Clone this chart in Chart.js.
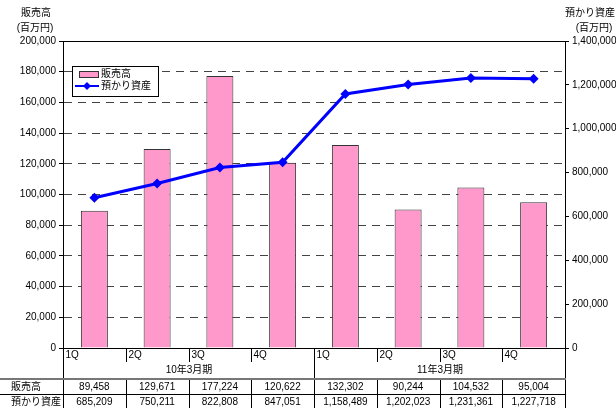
<!DOCTYPE html>
<html lang="ja">
<head>
<meta charset="UTF-8">
<title>販売高・預かり資産</title>
<script src="https://cdn.jsdelivr.net/npm/chart.js"></script>
<style>
    body { margin: 0; background: #fff; }
    canvas { display: block; }
</style>
</head>
<body>
<canvas id="chart" width="616" height="408"></canvas>
<script>
    // quarterly figures (millions of yen)
    const quarters = ["1Q", "2Q", "3Q", "4Q", "1Q", "2Q", "3Q", "4Q"];
    const fiscalYears = ["10年3月期", "11年3月期"];
    const sales = [89458, 129671, 177224, 120622, 132302, 90244, 104532, 95004];
    const assets = [685209, 750211, 822808, 847051, 1158489, 1202023, 1231361, 1227718];
    const salesLabel = "販売高";
    const assetsLabel = "預かり資産";
    const unitLabel = "(百万円)";

    const FONT = "'Liberation Sans', 'Noto Sans CJK JP', sans-serif";
    const PINK = "#FF99CC";
    const BLUE = "#0000FF";

    Chart.defaults.font.family = FONT;
    Chart.defaults.font.size = 10;
    Chart.defaults.color = "#000";

    const fmt = v => Number(v).toLocaleString("en-US");

    // axis captions, legend box, chart frame and the data table underneath
    const extras = {
        id: "extras",
        afterDraw(chart) {
            const ctx = chart.ctx;
            const area = chart.chartArea;
            const x = chart.scales.x;
            ctx.save();

            // frame
            ctx.strokeStyle = "#000";
            ctx.lineWidth = 1;
            ctx.setLineDash([]);
            ctx.strokeRect(Math.round(area.left) + 0.5, Math.round(area.top) + 0.5,
                Math.round(area.right - area.left), Math.round(area.bottom - area.top));

            // axis captions
            ctx.fillStyle = "#000";
            ctx.font = "10px " + FONT;
            ctx.textAlign = "center";
            ctx.textBaseline = "middle";
            ctx.fillText(salesLabel, 36, 13);
            ctx.fillText(unitLabel, 35, 28);
            ctx.fillText(assetsLabel, 590, 13);
            ctx.fillText(unitLabel, 594, 28);

            // legend
            ctx.fillStyle = "#fff";
            ctx.fillRect(72, 66, 86, 30);
            ctx.strokeStyle = "#000";
            ctx.strokeRect(72.5, 66.5, 86, 30);
            ctx.fillStyle = PINK;
            ctx.fillRect(79, 71, 19, 6);
            ctx.strokeStyle = "#333";
            ctx.strokeRect(79.5, 71.5, 19, 6);
            ctx.strokeStyle = BLUE;
            ctx.lineWidth = 2;
            ctx.beginPath();
            ctx.moveTo(75, 86);
            ctx.lineTo(99, 86);
            ctx.stroke();
            ctx.fillStyle = BLUE;
            ctx.beginPath();
            ctx.moveTo(87, 82);
            ctx.lineTo(91, 86);
            ctx.lineTo(87, 90);
            ctx.lineTo(83, 86);
            ctx.closePath();
            ctx.fill();
            ctx.fillStyle = "#000";
            ctx.textAlign = "left";
            ctx.fillText(salesLabel, 101, 74);
            ctx.fillText(assetsLabel, 101, 86);

            // table
            const n = quarters.length;
            const left = area.left;
            const colW = (area.right - area.left) / n;
            const edge = k => Math.round(left + k * colW) + 0.5;
            const top = Math.round(area.bottom);
            const yTick = top + 14;
            const yRow1 = 379;
            const yRow2 = 394;
            const yEnd = 408;

            ctx.strokeStyle = "#000";
            ctx.lineWidth = 1;
            for (let k = 0; k <= n; k++) {
                const full = k === 0 || k === n || k === n / 2;
                ctx.beginPath();
                ctx.moveTo(edge(k), top);
                ctx.lineTo(edge(k), full ? yEnd : yTick);
                if (!full) {
                    ctx.moveTo(edge(k), yRow1);
                    ctx.lineTo(edge(k), yEnd);
                }
                ctx.stroke();
            }
            ctx.strokeStyle = "#777";
            ctx.lineWidth = 2;
            ctx.beginPath();
            ctx.moveTo(0, yRow1);
            ctx.lineTo(edge(n) + 0.5, yRow1);
            ctx.stroke();
            ctx.strokeStyle = "#000";
            ctx.lineWidth = 1;
            ctx.beginPath();
            ctx.moveTo(0, yRow2 + 0.5);
            ctx.lineTo(edge(n), yRow2 + 0.5);
            ctx.stroke();

            ctx.fillStyle = "#000";
            ctx.textAlign = "left";
            quarters.forEach((q, i) => ctx.fillText(q, edge(i) + 2, top + 7));
            ctx.textAlign = "center";
            fiscalYears.forEach((fy, j) => {
                ctx.fillText(fy, (edge(j * 4) + edge(j * 4 + 4)) / 2, 370);
            });
            sales.forEach((v, i) => ctx.fillText(fmt(v), x.getPixelForValue(i), 387));
            assets.forEach((v, i) => ctx.fillText(fmt(v), x.getPixelForValue(i), 402));
            ctx.textAlign = "left";
            ctx.fillText(salesLabel, 11, 387);
            ctx.fillText(assetsLabel, 11, 402);

            ctx.restore();
        }
    };

    new Chart(document.getElementById("chart"), {
        type: "bar",
        data: {
            labels: quarters,
            datasets: [
                {
                    type: "line",
                    label: assetsLabel,
                    data: assets,
                    yAxisID: "y2",
                    borderColor: BLUE,
                    backgroundColor: BLUE,
                    borderWidth: 3,
                    pointStyle: "rectRot",
                    pointRadius: 5,
                    pointBorderWidth: 0,
                    tension: 0,
                    order: 0
                },
                {
                    label: salesLabel,
                    data: sales,
                    yAxisID: "y",
                    backgroundColor: PINK,
                    borderColor: "#333",
                    borderWidth: 1,
                    barPercentage: 0.43,
                    categoryPercentage: 1,
                    order: 1
                }
            ]
        },
        options: {
            responsive: false,
            animation: false,
            devicePixelRatio: 1,
            layout: { padding: { top: 41, bottom: 60, left: 0, right: 0 } },
            plugins: {
                legend: { display: false },
                tooltip: { enabled: false }
            },
            scales: {
                x: { display: false, offset: true },
                y: {
                    position: "left",
                    min: 0,
                    max: 200000,
                    afterFit: s => { s.width = 63; },
                    ticks: { stepSize: 20000, padding: 3, callback: v => fmt(v) },
                    grid: { color: "#444", tickColor: "#000", tickLength: 4 },
                    border: { color: "#000", dash: [8, 6] }
                },
                y2: {
                    position: "right",
                    min: 0,
                    max: 1400000,
                    afterFit: s => { s.width = 51; },
                    ticks: { stepSize: 200000, padding: 3, callback: v => fmt(v) },
                    grid: { drawOnChartArea: false, tickColor: "#000", tickLength: 4 },
                    border: { color: "#000" }
                }
            }
        },
        plugins: [extras]
    });
</script>
</body>
</html>
